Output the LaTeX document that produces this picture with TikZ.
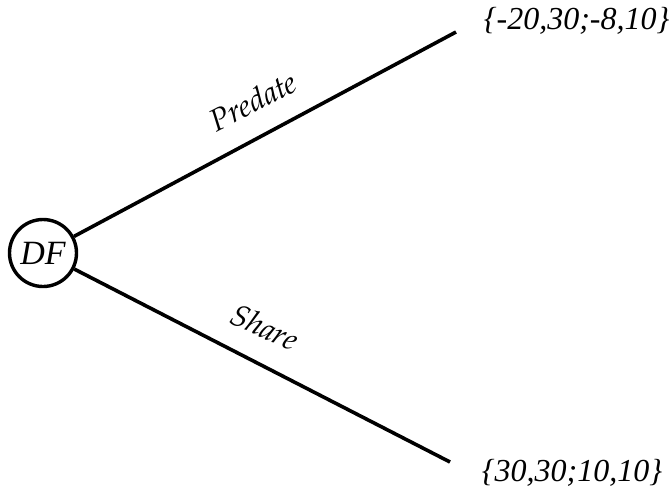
\documentclass[tikz,border=0pt]{standalone}
\usepackage{fontspec}
\setmainfont{Liberation Serif}
\newfontfamily\palfont{texgyrepagella-italic.otf}
\begin{document}
\begin{tikzpicture}[x=1pt,y=-1pt,line width=3.6pt,
  payoff/.style={font=\fontsize{32}{38}\selectfont\itshape,inner sep=0pt},
  branchlabel/.style={font=\fontsize{31}{37}\selectfont\palfont,inner sep=0pt}]
\useasboundingbox (0,0) rectangle (669,491);
\node[circle,draw,minimum size=67pt,inner sep=0pt,line width=3.4pt,font=\fontsize{34}{40}\selectfont\itshape] (df) at (43,253) {DF};
\node[payoff,anchor=west] (p1) at (482,21) {\{-20,30;-8,10\}};
\node[payoff,anchor=west] (p2) at (480,473) {\{30,30;10,10\}};
\coordinate (top) at (456,32);
\coordinate (bot) at (450,462);
\draw (df) -- (top);
\draw (df) -- (bot);
\node[branchlabel,rotate=27] (pred) at (253,101) {Predate};
\node[branchlabel,rotate=-25] (share) at (265,327) {Share};
\end{tikzpicture}
\end{document}
